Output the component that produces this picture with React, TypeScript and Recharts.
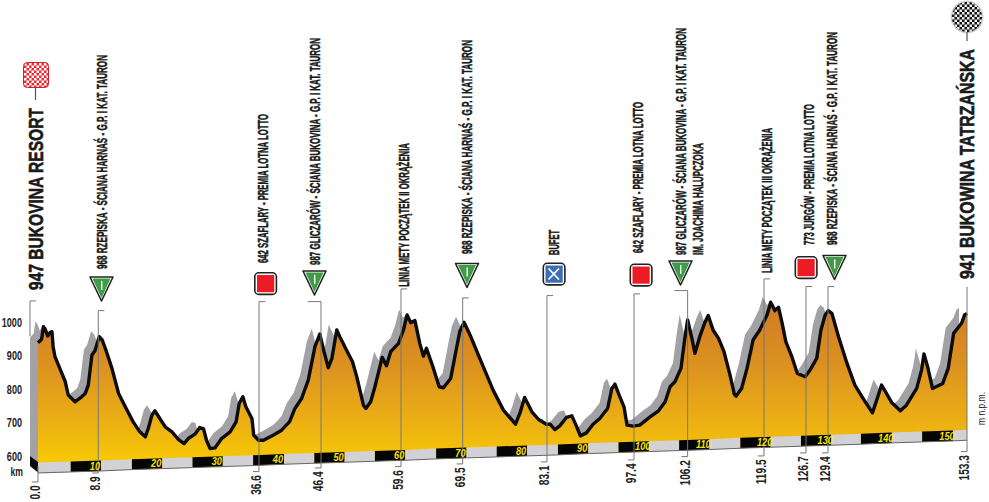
import { Area, ComposedChart, Customized, Line, ReferenceDot, ReferenceLine, XAxis, YAxis } from "recharts"

const profileKm = [
  0, 0.6, 0.9, 1.2, 1.6, 2, 2.3, 2.5, 2.8, 3.6, 4.5, 5, 6.1, 7.2, 7.8, 8.3, 8.9, 9.4, 10.1, 10.6, 11.3, 12.2, 13.3, 14.4,
  15.7, 16.8, 17.7, 18.2, 18.8, 19.3, 20.1, 21, 22.1, 23.2, 24.1, 24.8, 25.9, 26.7, 27.3, 27.8, 28.4, 29.2, 30.3, 31.7,
  32.7, 33.2, 33.8, 34.3, 35.3, 35.6, 36.4, 37.2, 38.8, 40.2, 41.5, 42.4, 43.5, 44.6, 45.7, 46.5, 47.2, 47.9, 48.5, 49.3,
  49.8, 50.9, 51.9, 52.6, 53.7, 54.1, 54.9, 55.6, 56.8, 57.5, 58.2, 59.5, 60.3, 60.9, 61.5, 62.2, 63, 63.6, 64.1, 65.2,
  66.2, 66.9, 68.1, 69, 69.6, 70.3, 71.3, 72.9, 75.1, 76.8, 78.8, 79.6, 80.3, 81.5, 82.6, 83.9, 84.5, 85.3, 86.1, 87.2,
  88.1, 88.9, 89.5, 90.5, 91.6, 92.7, 94, 94.7, 95.2, 95.9, 96.7, 97.2, 98.2, 99.3, 101, 102.4, 103.5, 104.3, 105.1, 106.1,
  106.7, 107.2, 107.9, 108.4, 109.2, 110.1, 110.6, 111.4, 112.3, 113.2, 114.2, 114.9, 115.2, 116.1, 117, 118, 119.1, 120.3,
  120.9, 121.6, 122.2, 122.8, 123.4, 124.4, 125.3, 126.6, 127.4, 128.5, 129.2, 129.9, 130.4, 131, 132.1, 133.5, 134.8, 136.5,
  137.7, 138.4, 139.2, 140, 140.9, 142.3, 143.3, 145, 145.8, 146.2, 146.8, 147.6, 149.3, 150.2, 151.1, 152.4, 152.9, 153.3,
]
const profileElev = [
  939, 949, 987, 979, 959, 970, 972, 927, 897, 862, 822, 782, 762, 777, 787, 812, 902, 915, 957, 947, 912, 862, 787, 747,
  702, 672, 657, 682, 722, 735, 712, 687, 672, 649, 637, 652, 665, 685, 682, 647, 622, 624, 652, 672,
  702, 757, 777, 747, 712, 662, 647, 647, 662, 677, 702, 742, 772, 827, 927, 965, 912, 864, 892, 977,
  957, 917, 882, 837, 752, 742, 762, 807, 895, 870, 912, 937, 977, 1022, 999, 1005, 937, 899, 922, 865,
  807, 804, 832, 917, 972, 1000, 962, 892, 797, 737, 695, 732, 775, 732, 709, 695, 695, 679, 690, 715,
  720, 687, 660, 669, 695, 712, 742, 802, 815, 782, 747, 692, 689, 692, 717, 735, 762, 807, 822, 862,
  947, 1007, 952, 907, 957, 1002, 1020, 977, 952, 912, 842, 785, 779, 802, 862, 947, 977, 1022,
  1060, 1035, 1045, 997, 942, 897, 847, 837, 857, 892, 977, 1022, 1035, 1027, 957, 877, 812, 762,
  729, 767, 812, 787, 759, 735, 752, 802, 857, 905, 867, 802, 817, 862, 967, 997, 1022, 1027,
]
const profile = profileKm.map((km, i) => ({ km, elev: profileElev[i] }))

const elevTicks = [600, 700, 800, 900, 1000]

// km strip along the bottom: grey and black blocks in turn
const stripKm = [
  0, 5.4, 10.4, 15.5, 20.5, 25.5, 30.5, 35.5, 40.6, 45.6, 50.6, 55.6, 60.6, 65.7, 70.7, 75.7, 80.7, 85.8, 90.8, 95.8, 100.8,
  105.8, 110.8, 115.9, 120.9, 125.9, 130.9, 135.8, 140.9, 145.9, 151, 153.3,
]
const stripTop = [
  580, 583, 586, 590, 593, 596, 599, 602, 606, 609, 612, 615, 618, 622, 625, 628, 631, 634, 638, 641, 644, 647, 650, 654,
  657, 660, 663, 666, 670, 673, 676, 678,
]
const stripDepth = 31
const stripLabels = ["10", "20", "30", "40", "50", "60", "70", "80", "90", "100", "110", "120", "130", "140", "150"]

// stems drop from each point of interest to its distance label
const stemKm = [0, 9.95, 36.47, 46.7, 59.9, 70.08, 83.99, 98.35, 107.2, 119.8, 126.73, 130.36, 153.3]
const stemLabels = ["0.0", "8.9", "36.6", "46.4", "59.6", "69.5", "83.1", "97.4", "106.2", "119.5", "126.7", "129.4", "153.3"]
const stemTop = [570, 1035, 1062, 1062, 1100, 1073, 1080, 1085, 1095, 1130, 1107, 1107, 1106]
const stemBottom = [522, 549, 553, 564, 568, 576, 582, 588, 598, 600, 609, 609, 613]
const capSide = [0, 1, 1, -1, 1, 1, 1, 1, -1, 1, 1, 1, 0]

const START = "947 BUKOVINA RESORT"
const FINISH = "941 BUKOWINA TATRZAŃSKA"
const HARNAS = "968 RZEPISKA - ŚCIANA HARNAŚ -  G.P. I KAT. TAURON"
const GLICZAROW = "987 GLICZARÓW - ŚCIANA BUKOVINA - G.P. I KAT. TAURON"
const SZAFLARY = "642 SZAFLARY - PREMIA LOTNA LOTTO"

const wide = "'Liberation Sans', Arial, sans-serif"

const kmDomain = [-2.64, 156.93]
const elevDomain = [462, 1965]
// the grey relief is the same profile pushed up and to the left
const shadowKmDomain = [-1.32, 158.25]
const shadowElevDomain = [445.5, 1948.5]

// no condensed face is installed, so squeeze the bold one to the measured run
function VText({ text, x, y0, y1, size = 14, weight = "bold", fill = "#1a1a1a", heft = 0.5 }: any) {
  const run = y0 - y1
  const squeeze = Math.min(1, run / (text.length * size * 0.62))
  return (
    <text
      transform={`translate(${x},${y0}) rotate(-90) scale(${squeeze},1)`}
      dominantBaseline="central"
      textLength={run / squeeze}
      lengthAdjust="spacingAndGlyphs"
      fontFamily={wide}
      fontWeight={weight}
      fontSize={size}
      fill={fill}
      stroke={heft ? fill : "none"}
      strokeWidth={heft}
    >
      {text}
    </text>
  )
}

function Triangle({ x, y }: { x: number; y: number }) {
  return (
    <g>
      <path d={`M${x + 1},${y + 1}H${x + 24}L${x + 12.5},${y + 25}Z`} fill="#fff" stroke="#222" strokeWidth={1.6} strokeLinejoin="round" />
      <path d={`M${x + 3.5},${y + 2.5}H${x + 21.5}L${x + 12.5},${y + 22}Z`} fill="#3f9b45" />
      <rect x={x + 12} y={y + 5} width={1.4} height={9} fill="#fff" />
    </g>
  )
}

function Square({ x, y, fill = "#ed1c24" }: { x: number; y: number; fill?: string }) {
  return (
    <g>
      <rect x={x + 0.8} y={y + 0.8} width={21.6} height={21.6} rx={4} fill="#fff" stroke="#222" strokeWidth={1.6} />
      <rect x={x + 3} y={y + 3} width={17.2} height={17.2} fill={fill} />
    </g>
  )
}

function ElevTick({ x, y, payload }: any) {
  return (
    <text
      transform={`translate(${x},${y}) scale(0.7,1)`}
      textAnchor="end"
      dominantBaseline="central"
      fontFamily={wide}
      fontWeight="bold"
      fontSize={13}
      fill="#222"
    >
      {payload.value}
    </text>
  )
}

function Annotations() {
  return (
    <g>
      <defs>
        <pattern id="redCheck" width={5} height={5} patternUnits="userSpaceOnUse" x={24} y={63}>
          <rect width={5} height={5} fill="#ee2a30" />
          <rect width={2.5} height={2.5} fill="#fff" />
          <rect x={2.5} y={2.5} width={2.5} height={2.5} fill="#fff" />
        </pattern>
        <pattern id="blackCheck" width={5} height={5} patternUnits="userSpaceOnUse" x={952} y={2}>
          <rect width={5} height={5} fill="#111" />
          <rect width={2.5} height={2.5} fill="#eee" />
          <rect x={2.5} y={2.5} width={2.5} height={2.5} fill="#eee" />
        </pattern>
        <radialGradient id="flagGlow">
          <stop offset="80%" stopColor="#777" />
          <stop offset="100%" stopColor="#777" stopOpacity={0} />
        </radialGradient>
      </defs>

      <rect x={23} y={62} width={26} height={26} rx={4} fill="#aaa" opacity={0.6} />
      <rect x={23.5} y={62.5} width={25} height={25} rx={4} fill="url(#redCheck)" stroke="#d81e25" strokeWidth={1} />
      <line x1={35.5} x2={35.5} y1={88} y2={100} stroke="#555" strokeWidth={1.2} />
      <VText text={START} x={35.5} y0={290} y1={108} size={21} heft={0.6} />

      <circle cx={967} cy={17} r={17} fill="url(#flagGlow)" />
      <circle cx={967} cy={17} r={15} fill="url(#blackCheck)" />
      <line x1={967} x2={967} y1={32} y2={41} stroke="#555" strokeWidth={1.2} />
      <VText text={FINISH} x={967} y0={279} y1={49} size={21} heft={0.6} />

      <Triangle x={89} y={276} />
      <VText text={HARNAS} x={101.7} y0={269} y1={55} />
      <Square x={254} y={272} />
      <VText text={SZAFLARY} x={263} y0={263} y1={114} />
      <Triangle x={302} y={270} />
      <VText text={GLICZAROW} x={314.5} y0={265} y1={38} />
      <VText text="LINIA METY POCZĄTEK II OKRĄŻENIA" x={404} y0={286.7} y1={143} />
      <Triangle x={454.5} y={262.5} />
      <VText text={HARNAS} x={467} y0={254} y1={40} />
      <Square x={542.5} y={262.5} fill="#3d6db5" />
      <path d="M548.5,268.5L559,279.5M559,268.5L548.5,279.5" stroke="#fff" strokeWidth={1.8} />
      <VText text="BUFET" x={553.7} y0={255} y1={230} />
      <Square x={629.5} y={263.5} />
      <VText text={SZAFLARY} x={638} y0={253} y1={102} />
      <Triangle x={668} y={260} />
      <VText text={GLICZAROW} x={680.7} y0={255} y1={28} />
      <VText text="IM.  JOACHIMA HALUPCZOKA" x={698} y0={255} y1={143} />
      <VText text="LINIA METY POCZĄTEK III OKRĄŻENIA" x={767} y0={273} y1={128} />
      <Square x={794.5} y={256} />
      <VText text="773 JURGÓW - PREMIA LOTNA LOTTO" x={809} y0={245} y1={104} />
      <Triangle x={822} y={254.5} />
      <VText text={HARNAS} x={832} y0={245} y1={32} />

      <text transform="translate(23,472) scale(0.72,1)" textAnchor="end" dominantBaseline="central" fontFamily={wide} fontWeight="bold" fontSize={12} fill="#222">
        km
      </text>
      <VText text="m n.p.m." x={981} y0={425} y1={392} size={10} weight="normal" fill="#222" heft={0} />
    </g>
  )
}

export default function App() {
  return (
    <div style={{ position: "absolute", left: 0, top: 0, width: 989, height: 502, background: "#fff" }}>
      <ComposedChart width={989} height={502} margin={{ top: 0, right: 0, bottom: 0, left: 0 }}>
        <defs>
          <linearGradient id="reliefFill" gradientUnits="userSpaceOnUse" x1={0} y1={305} x2={0} y2={462}>
            <stop offset="0%" stopColor="#d07c24" />
            <stop offset="40%" stopColor="#dc9320" />
            <stop offset="75%" stopColor="#ecb014" />
            <stop offset="100%" stopColor="#f7c905" />
          </linearGradient>
        </defs>
        <XAxis type="number" dataKey="km" domain={kmDomain} allowDataOverflow hide />
        <XAxis xAxisId="shadow" type="number" dataKey="km" domain={shadowKmDomain} allowDataOverflow hide />
        <YAxis
          type="number"
          domain={elevDomain}
          allowDataOverflow
          ticks={elevTicks}
          width={22}
          axisLine={false}
          tickLine={false}
          tickSize={0}
          tickMargin={0}
          interval={0}
          tick={<ElevTick />}
        />
        <YAxis yAxisId="shadow" type="number" domain={shadowElevDomain} allowDataOverflow hide />

        <Area
          data={profile}
          xAxisId="shadow"
          yAxisId="shadow"
          dataKey="elev"
          type="linear"
          stroke="none"
          fill="#a2a2a6"
          fillOpacity={1}
          isAnimationActive={false}
        />
        <Area
          data={profile}
          dataKey="elev"
          type="linear"
          stroke="#0c0c0c"
          strokeWidth={3.4}
          strokeLinejoin="round"
          fill="url(#reliefFill)"
          fillOpacity={1}
          isAnimationActive={false}
        />
        {/* white out everything under the slanted strip */}
        <Area
          data={[
            { km: -1.32, band: [462, 570] },
            { km: 0.3, band: [462, 549] },
            { km: 153.4, band: [462, 647] },
          ]}
          dataKey="band"
          type="linear"
          stroke="none"
          fill="#fff"
          fillOpacity={1}
          isAnimationActive={false}
        />
        <Area
          data={[
            { km: -1.32, band: [570, 600] },
            { km: 0.1, band: [549, 580] },
          ]}
          dataKey="band"
          type="linear"
          stroke="none"
          fill="#0a0a0a"
          fillOpacity={1}
          isAnimationActive={false}
        />
        {stripKm.slice(0, -1).map((km, i) => (
          <Area
            key={km}
            data={[
              { km, band: [stripTop[i] - stripDepth, stripTop[i]] },
              { km: stripKm[i + 1], band: [stripTop[i + 1] - stripDepth, stripTop[i + 1]] },
            ]}
            dataKey="band"
            type="linear"
            stroke="none"
            fill={i % 2 ? "#050505" : "#d2d2d6"}
            fillOpacity={1}
            isAnimationActive={false}
          />
        ))}
        <Line
          data={stripKm.map((km, i) => ({ km, floor: stripTop[i] - stripDepth }))}
          dataKey="floor"
          type="linear"
          stroke="#666"
          strokeWidth={1}
          dot={false}
          isAnimationActive={false}
        />

        {stripLabels.map((label, i) => (
          <ReferenceDot
            key={label}
            x={stripKm[2 * i + 2] - 1}
            y={stripTop[2 * i + 2] - stripDepth / 2}
            ifOverflow="visible"
            shape={(p: any) => (
              <text
                transform={`translate(${p.cx},${p.cy}) scale(0.8,1)`}
                textAnchor="middle"
                dominantBaseline="central"
                fontFamily={wide}
                fontWeight="bold"
                fontStyle="italic"
                fontSize={11.5}
                fill="#f5e400"
              >
                {label}
              </text>
            )}
          />
        ))}

        {/* start bracket sits on the grey side face */}
        <ReferenceLine segment={[{ x: -1.32, y: 1064 }, { x: -1.32, y: 959 }]} stroke="#777" ifOverflow="visible" />
        <ReferenceLine segment={[{ x: -1.32, y: 1064 }, { x: -0.32, y: 1064 }]} stroke="#777" ifOverflow="visible" />
        {stemKm.map((km, i) => (
          <ReferenceLine key={km} segment={[{ x: km, y: stemTop[i] }, { x: km, y: stemBottom[i] }]} stroke="#777" ifOverflow="visible" />
        ))}
        {stemKm.map((km, i) =>
          capSide[i] ? (
            <ReferenceLine
              key={`cap${km}`}
              segment={[{ x: km, y: stemTop[i] }, { x: km + capSide[i] * (capSide[i] < 0 ? 2.2 : 1), y: stemTop[i] }]}
              stroke="#777"
              ifOverflow="visible"
            />
          ) : null,
        )}
        {stemKm.map((km, i) => (
          <ReferenceLine key={`foot${km}`} segment={[{ x: km, y: stemBottom[i] }, { x: km - 1, y: stemBottom[i] }]} stroke="#777" ifOverflow="visible" />
        ))}
        {stemKm.map((km, i) => (
          <ReferenceDot
            key={`label${km}`}
            x={km}
            y={stemBottom[i]}
            ifOverflow="visible"
            shape={(p: any) => (
              <text
                transform={`translate(${p.cx - 2.5},${p.cy + 3.5}) rotate(-90) scale(0.7,1)`}
                textAnchor="end"
                dominantBaseline="central"
                fontFamily={wide}
                fontWeight="bold"
                fontSize={14.5}
                fill="#222"
              >
                {stemLabels[i]}
              </text>
            )}
          />
        ))}
        <Customized component={Annotations} />
      </ComposedChart>
    </div>
  )
}
